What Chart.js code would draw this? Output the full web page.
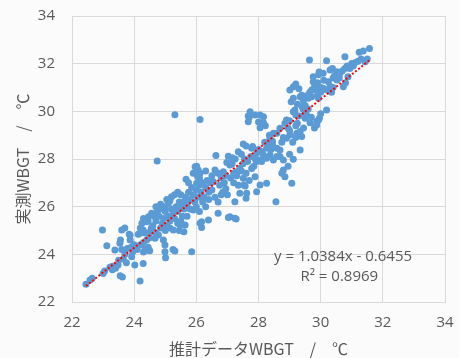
<!DOCTYPE html>
<html>
<head>
<meta charset="utf-8">
<script src="https://cdn.jsdelivr.net/npm/chart.js@4"></script>
<style>
  html, body { margin: 0; padding: 0; background: #fbfbfb; }
  #wrap { width: 459px; height: 358px; }
</style>
</head>
<body>
<div id="wrap"><canvas id="wbgtChart" width="459" height="358"></canvas></div>
<script>
// 推計データWBGT (x) と 実測WBGT (y) — 図から読み取った値
const lowX = [
  22.45, 22.58, 22.65, 23.00, 23.05, 22.98, 23.12, 23.22, 23.30, 23.38,
  23.40, 23.48, 23.55, 23.62, 23.54, 23.56, 23.60, 23.65, 23.70, 23.75,
  23.78, 23.84, 23.87, 23.90, 23.95, 23.92, 24.00, 24.02, 24.10, 24.19,
  23.87, 23.70, 24.13, 23.50, 23.30, 23.60
];
const lowY = [
  22.75, 22.92, 23.00, 23.20, 23.30, 25.02, 24.36, 23.46, 23.50, 24.18,
  23.42, 23.55, 23.10, 23.05, 24.46, 24.60, 25.02, 23.80, 24.00, 23.65,
  24.25, 24.84, 24.60, 24.30, 24.10, 23.90, 24.40, 23.55, 24.20, 22.88,
  24.80, 25.10, 24.84, 23.75, 23.35, 24.20
];

const midX = [
  24.19, 24.29, 24.30, 24.35, 24.40, 24.45, 24.50, 24.29, 24.40, 24.46,
  24.56, 24.51, 24.67, 24.74, 24.78, 24.78, 24.94, 24.99, 25.01, 24.99,
  24.99, 25.10, 25.20, 25.26, 25.31, 25.25, 25.31, 24.60, 24.70, 24.80,
  24.85, 24.90, 24.95, 25.00, 25.05, 25.10, 25.15, 25.20, 25.25, 25.30,
  25.35, 25.40, 25.45, 25.50, 24.70, 24.60, 24.40, 24.50, 24.30, 24.35,
  24.55, 24.65, 24.75, 24.90, 25.00, 25.15, 25.40, 25.47, 25.45, 25.60,
  25.64, 24.70, 24.85, 25.05, 25.30, 25.15, 25.40, 25.50, 25.55, 25.60,
  24.20, 24.25, 24.45, 24.20, 25.85, 24.30
];
const midY = [
  24.88, 23.62, 24.10, 24.22, 24.18, 24.30, 24.15, 25.02, 25.37, 25.58,
  25.72, 24.95, 24.67, 27.92, 24.81, 25.93, 24.60, 24.11, 23.86, 24.39,
  26.00, 26.14, 26.42, 25.02, 24.14, 24.20, 29.86, 25.20, 25.40, 25.60,
  25.10, 25.30, 25.50, 25.80, 25.20, 25.60, 25.40, 25.90, 25.70, 25.50,
  26.00, 25.80, 26.20, 26.00, 24.90, 25.00, 24.60, 24.70, 24.50, 24.90,
  25.10, 25.60, 25.80, 25.90, 25.00, 25.10, 25.30, 25.23, 25.00, 24.95,
  25.23, 26.00, 26.10, 26.30, 26.50, 26.25, 26.60, 26.50, 25.60, 25.90,
  24.40, 25.30, 25.40, 25.10, 24.11, 25.50
];

const centerX = [
  25.75, 25.67, 26.04, 26.01, 26.10, 25.90, 26.01, 26.06, 26.12, 26.17,
  26.17, 26.12, 26.39, 26.70, 27.03, 27.28, 27.24, 27.08, 25.90, 25.60,
  25.65, 25.70, 25.75, 25.80, 25.85, 25.90, 25.95, 26.00, 26.05, 26.10,
  26.15, 26.20, 26.25, 26.30, 26.35, 26.40, 26.45, 26.50, 26.55, 26.60,
  26.63, 26.70, 26.75, 26.80, 26.85, 26.90, 26.95, 26.95, 26.50, 26.30,
  26.20, 26.40, 26.60, 26.30, 25.96, 26.12, 26.70, 26.80, 26.87, 25.80,
  25.70, 26.00, 26.10, 25.50
];
const centerY = [
  27.00, 27.15, 27.26, 26.98, 27.20, 27.40, 27.70, 27.54, 29.66, 25.37,
  25.13, 25.30, 25.44, 25.72, 25.55, 25.48, 25.51, 25.58, 25.86, 26.20,
  26.40, 26.10, 26.60, 26.30, 26.80, 26.50, 26.20, 26.70, 26.40, 26.90,
  26.60, 27.00, 26.40, 26.80, 27.10, 26.60, 27.00, 26.70, 27.05, 27.54,
  28.15, 27.40, 26.90, 27.20, 26.60, 27.00, 26.75, 27.30, 27.30, 27.50,
  26.20, 26.30, 26.40, 26.00, 27.68, 27.40, 26.20, 26.50, 27.47, 25.90,
  25.60, 26.00, 25.80, 25.40
];

const upperX = [
  27.03, 27.15, 27.08, 26.98, 27.51, 27.60, 27.81, 27.78, 27.67, 27.73,
  27.67, 27.70, 27.89, 28.05, 28.16, 28.16, 28.05, 28.00, 28.22, 27.94,
  28.10, 28.26, 28.26, 28.10, 27.94, 28.05, 28.16, 28.37, 28.48, 28.48,
  28.37, 28.45, 27.30, 27.51, 27.57, 27.78, 27.89, 28.05, 27.40, 27.62,
  27.60, 27.24, 27.53, 27.94, 28.26, 28.56, 27.20, 27.30, 27.35, 27.45,
  27.50, 27.60, 27.65, 27.70, 27.75, 27.85, 27.90, 28.00, 27.40, 27.20,
  27.15, 27.25, 27.35, 27.45, 27.55, 28.20, 28.30, 28.40, 28.35, 28.45,
  27.10, 27.00
];
const upperY = [
  28.12, 28.05, 27.75, 27.85, 28.63, 28.55, 28.52, 28.45, 29.56, 29.98,
  29.80, 29.74, 29.85, 29.85, 29.77, 29.52, 29.31, 29.55, 29.40, 28.24,
  28.31, 28.45, 28.03, 27.89, 27.89, 27.96, 28.17, 28.17, 27.96, 29.08,
  28.87, 28.75, 27.47, 27.19, 26.87, 27.60, 27.26, 26.91, 26.56, 26.56,
  26.35, 26.21, 26.91, 26.63, 26.98, 26.21, 27.00, 27.30, 26.90, 27.50,
  27.80, 27.40, 27.90, 27.10, 28.10, 27.70, 28.00, 28.40, 27.60, 27.40,
  27.80, 28.00, 28.30, 28.20, 28.00, 28.70, 28.60, 28.40, 29.00, 28.60,
  27.20, 26.50
];

const hotX = [
  28.59, 28.69, 28.69, 28.80, 28.59, 28.59, 28.69, 28.85, 28.90, 28.90,
  29.01, 29.23, 29.34, 29.39, 29.34, 29.12, 29.00, 28.80, 28.85, 29.07,
  28.75, 28.95, 29.12, 29.20, 29.17, 29.44, 29.55, 29.66, 29.50, 29.50,
  29.70, 29.87, 29.87, 29.93, 29.80, 30.00, 29.12, 29.01, 29.20, 29.30,
  29.12, 29.05, 29.34, 29.39, 29.44, 29.50, 29.55, 29.60, 29.71, 29.71,
  29.65, 29.80, 29.76, 29.76, 29.82, 29.87, 29.90, 29.93, 29.20, 29.00,
  28.95, 29.30, 29.25, 29.45, 29.60, 29.40, 28.75, 28.80, 29.10, 29.20,
  29.25, 29.64, 29.00
];
const hotY = [
  28.45, 28.38, 28.10, 27.96, 28.10, 29.08, 29.29, 29.50, 29.64, 28.87,
  29.01, 29.08, 29.15, 28.94, 28.38, 27.99, 28.20, 27.54, 27.26, 26.98,
  27.40, 27.70, 29.98, 29.85, 30.06, 30.09, 29.85, 29.52, 29.92, 29.71,
  29.75, 29.57, 29.43, 29.64, 29.30, 29.90, 31.03, 30.90, 31.15, 30.95,
  30.55, 30.40, 30.61, 30.68, 30.47, 30.25, 30.65, 30.55, 30.61, 30.90,
  30.80, 31.00, 31.24, 31.45, 31.10, 30.90, 30.70, 30.55, 29.40, 29.20,
  29.30, 29.80, 29.50, 29.30, 30.10, 30.20, 28.70, 28.90, 28.70, 28.90,
  30.30, 32.15, 29.60
];

const topX = [
  29.93, 29.95, 30.08, 30.08, 30.19, 30.19, 30.25, 30.30, 30.30, 30.38,
  30.52, 30.52, 30.62, 30.73, 30.80, 30.78, 30.78, 30.88, 30.94, 31.00,
  31.05, 31.10, 31.24, 31.37, 31.57, 31.43, 31.50, 30.40, 30.45, 30.60,
  30.70, 30.85, 31.20, 31.30, 30.00, 30.10, 30.20, 30.35, 30.40, 30.00,
  29.90, 29.96
];
const topY = [
  31.53, 31.65, 31.60, 30.97, 30.06, 32.12, 31.24, 31.05, 31.73, 31.80,
  31.31, 31.66, 31.60, 31.03, 31.20, 31.80, 32.29, 31.45, 31.80, 32.01,
  31.90, 32.04, 32.48, 32.53, 32.64, 32.08, 32.20, 31.40, 31.50, 31.40,
  31.70, 31.90, 32.10, 32.20, 30.80, 31.30, 30.90, 30.80, 31.00, 31.00,
  31.20, 29.71
];

// 近似直線の両端 (y = 1.0384x - 0.6455)
const trendX = [22.45, 31.60];
const trendY = [22.67, 32.17];

const axisTicks = [22, 24, 26, 28, 30, 32, 34];
const fitLabels = ['y = 1.0384x - 0.6455', 'R² = 0.8969'];

const textColor = '#595959';
const gridColor = '#d9d9d9';

// x と y を点の配列にまとめる
function toPoints(xs, ys) {
    return xs.map((x, i) => ({ x: x, y: ys[i] }));
}

const scatterPoints = [].concat(
    toPoints(lowX, lowY),
    toPoints(midX, midY),
    toPoints(centerX, centerY),
    toPoints(upperX, upperY),
    toPoints(hotX, hotY),
    toPoints(topX, topY)
);

// 近似式と R² をプロット内に書く
const fitTextPlugin = {
    id: 'fitText',
    afterDatasetsDraw(chart) {
        const ctx = chart.ctx;
        const xs = chart.scales.x;
        const ys = chart.scales.y;
        ctx.save();
        ctx.font = '15px "Open Sans"';
        ctx.fillStyle = textColor;
        ctx.textAlign = 'center';
        ctx.textBaseline = 'middle';
        ctx.fillText(fitLabels[0], xs.getPixelForValue(30.72), ys.getPixelForValue(23.88));
        ctx.fillText(fitLabels[1], xs.getPixelForValue(30.60), ys.getPixelForValue(23.05));
        ctx.restore();
    }
};

const tickFont = { family: '"Open Sans"', size: 15 };
const titleFont = { family: '"Noto Sans CJK JP"', size: 16, lineHeight: 1 };

new Chart(document.getElementById('wbgtChart'), {
    type: 'scatter',
    data: {
        datasets: [
            {
                type: 'line',
                data: toPoints(trendX, trendY),
                borderColor: '#ff0000',
                borderWidth: 2,
                borderDash: [2, 2],
                pointRadius: 0,
                fill: false,
                order: 0
            },
            {
                data: scatterPoints,
                backgroundColor: '#5b9bd5',
                borderWidth: 0,
                pointRadius: 3.5,
                order: 1
            }
        ]
    },
    options: {
        responsive: false,
        animation: false,
        layout: { padding: { top: 16, right: 14, bottom: 0, left: 0 } },
        plugins: {
            legend: { display: false },
            tooltip: { enabled: false }
        },
        scales: {
            x: {
                type: 'linear',
                min: 22,
                max: 34,
                afterBuildTicks: scale => { scale.ticks = axisTicks.map(v => ({ value: v })); },
                afterFit: scale => {
                    scale.height = 56;
                    scale.paddingLeft = 0;
                    scale.paddingRight = 0;
                },
                ticks: { font: tickFont, color: textColor, padding: 12 },
                grid: { color: gridColor, drawTicks: false },
                border: { color: gridColor },
                title: {
                    display: true,
                    text: '推計データWBGT　/　℃',
                    font: titleFont,
                    color: textColor,
                    padding: { top: 0, bottom: 1 }
                }
            },
            y: {
                type: 'linear',
                min: 22,
                max: 34,
                afterBuildTicks: scale => { scale.ticks = axisTicks.map(v => ({ value: v })); },
                afterFit: scale => {
                    scale.width = 72;
                    scale.paddingTop = 0;
                    scale.paddingBottom = 0;
                },
                ticks: { font: tickFont, color: textColor, padding: 17 },
                grid: { color: gridColor, drawTicks: false },
                border: { color: gridColor },
                title: {
                    display: true,
                    text: '実測WBGT　/　℃',
                    font: titleFont,
                    color: textColor,
                    padding: { top: 15, bottom: 0 }
                }
            }
        }
    },
    plugins: [fitTextPlugin]
});
</script>
</body>
</html>
